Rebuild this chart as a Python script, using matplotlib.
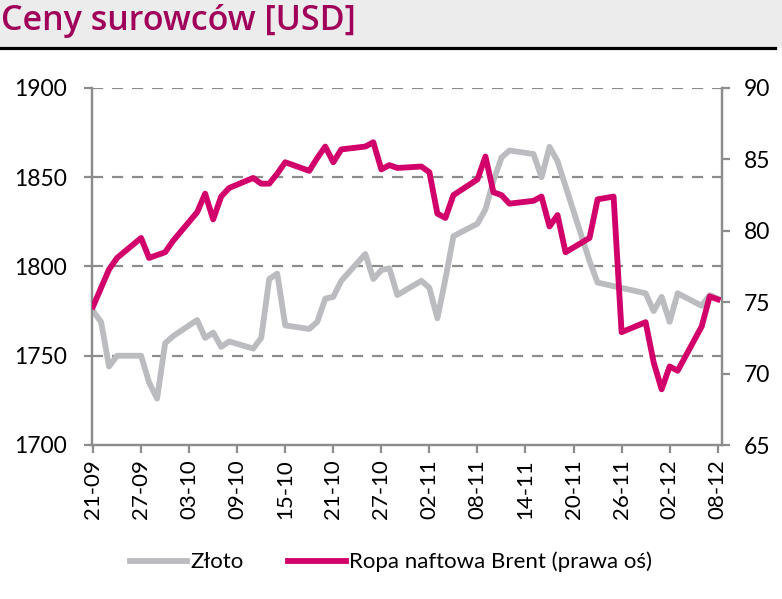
import matplotlib
matplotlib.use("Agg")
import matplotlib.pyplot as plt
from matplotlib.lines import Line2D
from matplotlib.patches import Rectangle
import pandas as pd

# ---- data ----
dates = pd.bdate_range("2021-09-21", "2021-12-08")

gold = [1775, 1769, 1744, 1750, 1750, 1735, 1726, 1757, 1761,
        1770, 1760, 1763, 1755, 1758, 1754, 1760, 1793, 1796, 1767,
        1765, 1769, 1782, 1783, 1792, 1807, 1793, 1798, 1799, 1784,
        1792, 1788, 1771, 1793, 1817, 1824, 1832, 1848, 1861, 1865,
        1863, 1850, 1867, 1859, 1845, 1803, 1791, 1790, 1789, 1788,
        1785, 1775, 1783, 1769, 1785, 1778, 1784, 1782]

brent = [74.7, 76.0, 77.3, 78.1, 79.5, 78.1, 78.3, 78.5, 79.3,
         81.3, 82.6, 80.8, 82.4, 83.0, 83.7, 83.3, 83.3, 84.0, 84.8,
         84.2, 85.1, 85.9, 84.8, 85.7, 85.9, 86.2, 84.3, 84.6, 84.4,
         84.5, 84.1, 81.2, 80.9, 82.5, 83.6, 85.2, 82.7, 82.5, 81.9,
         82.1, 82.4, 80.3, 81.1, 78.5, 79.5, 82.2, 82.3, 82.4, 72.9,
         73.6, 70.8, 68.9, 70.5, 70.2, 73.3, 75.4, 75.2]

tick_dates = pd.date_range("2021-09-21", "2021-12-08", freq="6D")
tick_labels = [d.strftime("%d-%m") for d in tick_dates]

left_ticks = [1700, 1750, 1800, 1850, 1900]
right_ticks = [65, 70, 75, 80, 85, 90]

title = "Ceny surowców [USD]"
gold_label = "Złoto"
brent_label = "Ropa naftowa Brent (prawa oś)"

# ---- style ----
GOLD_C = "#BBBCBF"
BRENT_C = "#D1006B"
TITLE_C = "#A0005A"
AX_C = "#8C8C8C"
FONT = ["Lato", "DejaVu Sans"]
FS = 16

W, H = 782, 599
fig = plt.figure(figsize=(W / 100, H / 100), dpi=100)
fig.patch.set_facecolor("white")

# title band
fig.patches.append(Rectangle((0, 1 - 48 / H), 1, 48 / H, transform=fig.transFigure,
                             facecolor="#ECECEC", edgecolor="none", zorder=0))
fig.add_artist(Line2D([0, 775 / W], [1 - 48 / H, 1 - 48 / H], transform=fig.transFigure,
                      color="black", lw=2.3))
fig.text(1 / W, 1 - 21 / H, title, color=TITLE_C, fontsize=24.5, va="center", ha="left",
         family=["Open Sans", "DejaVu Sans"], fontweight="semibold")

ax = fig.add_axes([91.7 / W, 1 - 445 / H, (721.7 - 91.7) / W, (445 - 88) / H])
ax2 = ax.twinx()

ax.plot(dates, gold, color=GOLD_C, lw=4.2, solid_joinstyle="round", label=gold_label, zorder=3)
ax2.plot(dates, brent, color=BRENT_C, lw=4.2, solid_joinstyle="round", label=brent_label, zorder=3)

ax.set_xlim(tick_dates[0] - pd.Timedelta(hours=4), tick_dates[-1] + pd.Timedelta(hours=12))
ax.set_ylim(1700, 1900)
ax2.set_ylim(65, 90)

ax.set_xticks(tick_dates)
ax.set_xticklabels(tick_labels, rotation=90, family=FONT, fontsize=FS)
ax.set_yticks(left_ticks)
ax.set_yticklabels([str(v) for v in left_ticks], family=FONT, fontsize=FS + 0.5)
ax2.set_yticks(right_ticks)
ax2.set_yticklabels([str(v) for v in right_ticks], family=FONT, fontsize=FS + 0.5)

for v in left_ticks[1:]:
    ax.axhline(v, color=AX_C, lw=1.6, ls=(0, (5, 4)), zorder=1)

for a in (ax, ax2):
    a.spines["top"].set_visible(False)
    for s in ("left", "right", "bottom"):
        a.spines[s].set_color(AX_C)
        a.spines[s].set_linewidth(1.6)
    a.tick_params(colors=AX_C, labelcolor="black", width=1.6, length=6, direction="out")
ax.tick_params(axis="y", pad=12)
ax2.tick_params(axis="y", pad=10)
ax.tick_params(axis="x", pad=4)
ax.set_facecolor("none")

handles = [Line2D([], [], color=GOLD_C, lw=4.2), Line2D([], [], color=BRENT_C, lw=4.2)]
fig.legend(handles, [gold_label, brent_label], loc="center", bbox_to_anchor=(0.5, 1 - 562 / H),
           ncol=2, frameon=False, prop={"family": FONT, "size": FS},
           handlelength=2.6, handletextpad=0.15, columnspacing=2.0)

fig.savefig("out.png", dpi=100, facecolor="white")
